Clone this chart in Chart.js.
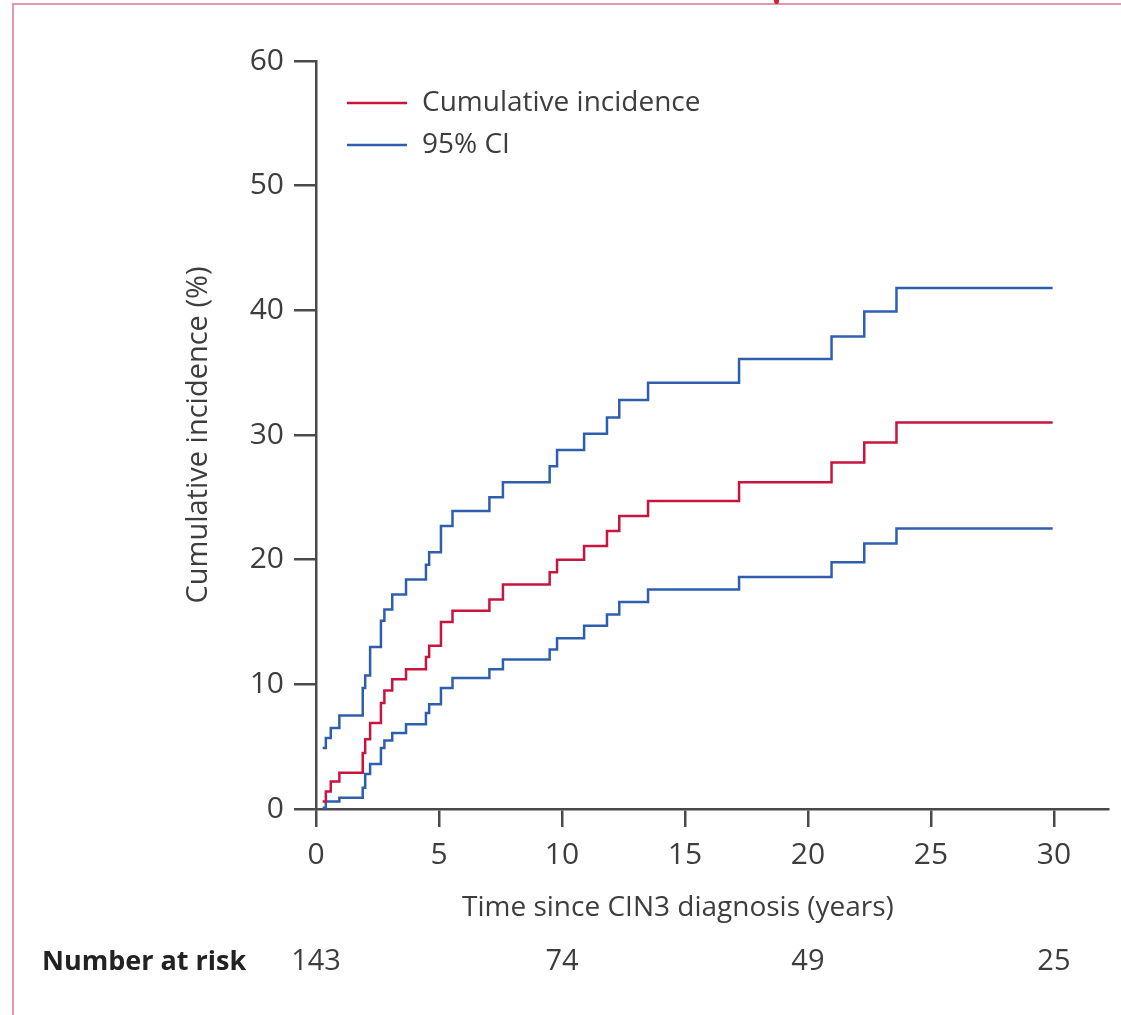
<!DOCTYPE html>
<html lang="en">
<head>
<meta charset="UTF-8">
<title>Cumulative incidence after CIN3 diagnosis</title>
<script src="https://cdn.jsdelivr.net/npm/chart.js@4"></script>
<style>
  html, body { margin: 0; padding: 0; background: #fff; }
  canvas { position: absolute; left: 0; top: 0; }
  .frame { position: absolute; left: 12px; top: 3px; right: 0; bottom: 0; border-top: 2px solid #e597ab; border-left: 2px solid #e597ab; }
  .mark { position: absolute; left: 774px; top: 0; width: 5px; height: 4px; background: #d2232f; border-radius: 0 0 3px 3px; }
</style>
</head>
<body>
<canvas id="chart" width="1121" height="1015"></canvas>
<div class="frame"></div>
<div class="mark"></div>
<script>
// event times (years since CIN3 diagnosis) and estimates (%)
const years        = [0.27, 0.4, 0.6, 0.95, 1.9, 2.0, 2.2, 2.64, 2.78, 3.1, 3.66, 4.47, 4.6, 5.08, 5.55, 7.05, 7.6, 9.5, 9.8, 10.9, 11.83, 12.33, 13.5, 17.2, 20.96, 22.29, 23.6, 29.95];
const cumIncidence = [0.6, 1.4, 2.2, 2.9, 4.5, 5.6, 6.9, 8.5, 9.5, 10.4, 11.2, 12.2, 13.1, 15.0, 15.9, 16.8, 18.0, 19.0, 20.0, 21.1, 22.3, 23.5, 24.7, 26.2, 27.8, 29.4, 31.0, 31.0];
const ciUpper      = [4.9, 5.7, 6.5, 7.5, 9.7, 10.7, 13.0, 15.1, 16.0, 17.2, 18.4, 19.6, 20.6, 22.7, 23.9, 25.0, 26.2, 27.5, 28.8, 30.1, 31.4, 32.8, 34.2, 36.1, 37.9, 39.9, 41.8, 41.8];
const ciLower      = [0.1, 0.6, 0.6, 0.9, 1.7, 2.8, 3.6, 4.9, 5.5, 6.1, 6.8, 7.7, 8.4, 9.7, 10.5, 11.2, 12.0, 12.8, 13.7, 14.7, 15.6, 16.6, 17.6, 18.6, 19.8, 21.3, 22.5, 22.5];

const xTickValues  = [0, 5, 10, 15, 20, 25, 30];
const riskYears    = [0, 10, 20, 30];
const numberAtRisk = [143, 74, 49, 25];

const RED = '#c8153f';
const BLUE = '#2e5fae';
const AXIS = '#4a4a4a';
const TEXT = '#3d3d3d';
const FONT = '"Open Sans", "Noto Sans", sans-serif';

function toPoints(vals) {
    return years.map((t, i) => ({ x: t, y: vals[i] }));
}

// legend, x title and number-at-risk row
const extras = {
    id: 'extras',
    afterDraw(chart) {
        const ctx = chart.ctx;
        const area = chart.chartArea;
        const xs = chart.scales.x;
        ctx.save();

        const items = chart.data.datasets.filter(d => !d.noLegend);
        items.forEach((d, i) => {
            const y = area.top + 42 + i * 42;
            ctx.strokeStyle = d.borderColor;
            ctx.lineWidth = 2.5;
            ctx.beginPath();
            ctx.moveTo(area.left + 31, y);
            ctx.lineTo(area.left + 91, y);
            ctx.stroke();
            ctx.fillStyle = TEXT;
            ctx.font = '28px ' + FONT;
            ctx.textAlign = 'left';
            ctx.textBaseline = 'middle';
            ctx.fillText(d.label, area.left + 106, y);
        });

        ctx.font = '28px ' + FONT;
        ctx.textAlign = 'center';
        ctx.fillStyle = TEXT;
        const mid = (xs.getPixelForValue(0) + xs.getPixelForValue(30)) / 2 - 7;
        ctx.fillText('Time since CIN3 diagnosis (years)', mid, 908);

        ctx.font = 'bold 27px ' + FONT;
        ctx.textAlign = 'left';
        ctx.fillStyle = '#222';
        ctx.fillText('Number at risk', 42, 962);

        ctx.font = '29px ' + FONT;
        ctx.textAlign = 'center';
        ctx.fillStyle = TEXT;
        riskYears.forEach((t, i) => {
            ctx.fillText(String(numberAtRisk[i]), xs.getPixelForValue(t), 962);
        });
        ctx.restore();
    }
};

const lineStyle = { stepped: true, fill: false, pointRadius: 0, borderWidth: 2.5, tension: 0 };

new Chart(document.getElementById('chart'), {
    type: 'line',
    data: {
        datasets: [
            { label: 'Cumulative incidence', data: toPoints(cumIncidence), borderColor: RED, ...lineStyle },
            { label: '95% CI', data: toPoints(ciUpper), borderColor: BLUE, ...lineStyle },
            { label: '95% CI', data: toPoints(ciLower), borderColor: BLUE, noLegend: true, ...lineStyle }
        ]
    },
    options: {
        responsive: false,
        animation: false,
        layout: { padding: { left: 180, top: 61, right: 13, bottom: 0 } },
        plugins: {
            legend: { display: false },
            tooltip: { enabled: false }
        },
        scales: {
            x: {
                type: 'linear',
                min: 0,
                max: 32.2,
                afterBuildTicks: s => { s.ticks = xTickValues.map(v => ({ value: v })); },
                afterFit: s => { s.height = 206; },
                border: { display: true, color: AXIS, width: 2.5 },
                grid: { drawOnChartArea: false, drawTicks: true, tickLength: 18, color: AXIS, lineWidth: 2.5 },
                ticks: { color: TEXT, font: { family: FONT, size: 30 }, padding: 10, maxRotation: 0 }
            },
            y: {
                min: 0,
                max: 60,
                afterFit: s => { s.width = 136; },
                border: { display: true, color: AXIS, width: 2.5 },
                grid: { drawOnChartArea: false, drawTicks: true, tickLength: 22, color: AXIS, lineWidth: 2.5 },
                ticks: { stepSize: 10, color: TEXT, font: { family: FONT, size: 30 }, padding: 10 },
                title: {
                    display: true,
                    text: 'Cumulative incidence (%)',
                    color: TEXT,
                    font: { family: FONT, size: 29 },
                    padding: { top: 1, bottom: 0 }
                }
            }
        }
    },
    plugins: [extras]
});
</script>
</body>
</html>
